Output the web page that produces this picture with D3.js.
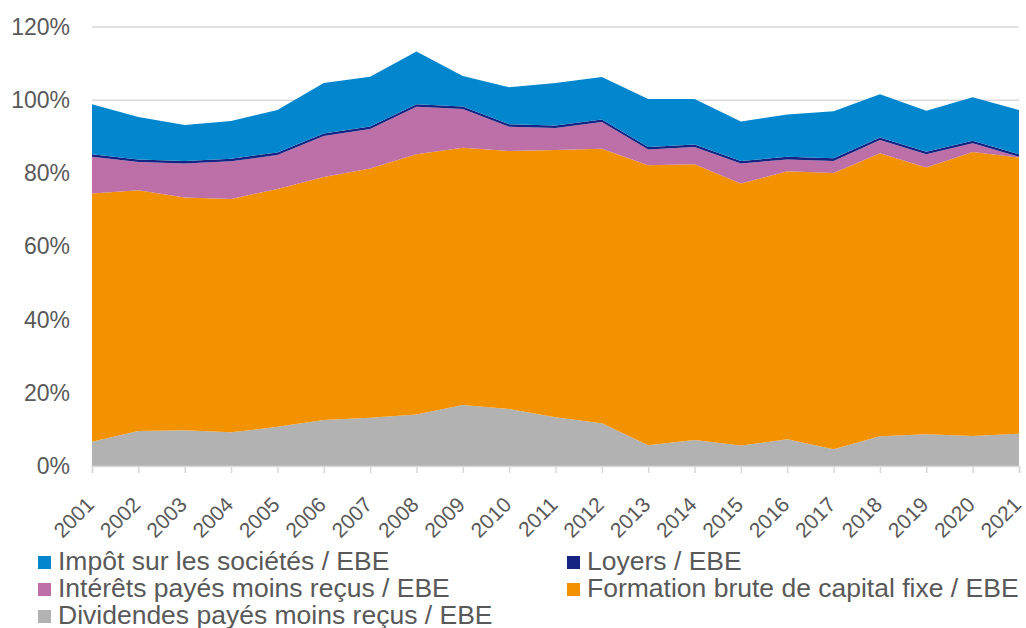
<!DOCTYPE html>
<html>
<head>
<meta charset="utf-8">
<script src="https://cdn.jsdelivr.net/npm/d3@7"></script>
<style>
  html, body { margin: 0; padding: 0; background: #fff; }
  svg { display: block; font-family: "Liberation Sans", Arial, sans-serif; }
</style>
</head>
<body>
<svg id="chart" width="1026" height="628"></svg>
<script>
// Years on the horizontal axis
const years = [2001,2002,2003,2004,2005,2006,2007,2008,2009,2010,2011,2012,2013,2014,2015,2016,2017,2018,2019,2020,2021];

// Ratios to EBE, in percent (stacked from bottom to top)
const dividendes = [6.6,9.6,9.8,9.2,10.7,12.6,13.2,14.1,16.7,15.6,13.3,11.7,5.7,7.1,5.6,7.3,4.6,8.1,8.7,8.2,8.8];
const fbcf       = [67.9,65.8,63.6,63.8,65.0,66.4,68.1,71.1,70.3,70.5,73.1,75.0,76.5,75.4,71.6,73.3,75.5,77.4,72.9,77.6,75.5];
const interets   = [10.0,7.7,9.3,10.3,9.3,11.2,10.8,13.0,10.6,6.6,6.0,7.3,4.3,4.7,5.5,3.2,3.3,3.6,3.6,2.4,0.2];
const loyers     = [0.7,0.7,0.7,0.7,0.7,0.7,0.7,0.7,0.7,0.7,0.7,0.7,0.7,0.7,0.7,0.7,0.7,0.7,0.7,0.7,0.7];
const impot      = [13.7,11.6,9.8,10.3,11.6,13.8,13.6,14.4,8.3,10.1,11.6,11.6,13.1,12.4,10.8,11.6,12.9,11.8,11.2,11.9,12.1];

const yTicks = [0,20,40,60,80,100,120];

const series = [
  { key: "div", label: "Dividendes payés moins reçus / EBE", values: dividendes, color: "#b2b2b2" },
  { key: "fbcf", label: "Formation brute de capital fixe / EBE", values: fbcf, color: "#f39200" },
  { key: "int", label: "Intérêts payés moins reçus / EBE", values: interets, color: "#bd70a8" },
  { key: "loy", label: "Loyers / EBE", values: loyers, color: "#152482" },
  { key: "is", label: "Impôt sur les sociétés / EBE", values: impot, color: "#0287cf" }
];

const rows = years.map((yr, i) => {
  const r = { year: yr };
  series.forEach(s => r[s.key] = s.values[i]);
  return r;
});

const svg = d3.select("#chart");
const plotLeft = 92, plotRight = 1019, plotTop = 27, plotBottom = 466;

const x = d3.scaleLinear().domain([years[0], years[years.length - 1]]).range([plotLeft, plotRight]);
const y = d3.scaleLinear().domain([0, 120]).range([plotBottom, plotTop]);

const textColor = "#595959";
const gridColor = "#d9d9d9";
const fontFamily = "'Liberation Sans', Arial, sans-serif";

// Horizontal gridlines
svg.append("g")
  .selectAll("line")
  .data(yTicks.filter(t => t > 0))
  .join("line")
  .attr("x1", plotLeft).attr("x2", plotRight)
  .attr("y1", d => y(d)).attr("y2", d => y(d))
  .attr("stroke", gridColor).attr("stroke-width", 1.5);

// Stacked areas
const stack = d3.stack().keys(series.map(s => s.key));
const layers = stack(rows);
const area = d3.area()
  .x(d => x(d.data.year))
  .y0(d => y(d[0]))
  .y1(d => y(d[1]));

svg.append("g")
  .selectAll("path")
  .data(layers)
  .join("path")
  .attr("d", area)
  .attr("fill", (d, i) => series[i].color);

// Y axis labels
const yAxis = d3.axisLeft(y).tickValues(yTicks).tickFormat(d => d + "%").tickSize(0).tickPadding(22);
const gy = svg.append("g").attr("transform", `translate(${plotLeft},0)`).call(yAxis);
gy.select(".domain").remove();
gy.selectAll("text")
  .attr("fill", textColor)
  .style("font-size", "23px")
  .style("font-family", fontFamily);

// X axis with rotated year labels
const xAxis = d3.axisBottom(x).tickValues(years).tickFormat(d3.format("d")).tickSize(7).tickPadding(0);
const gx = svg.append("g").attr("transform", `translate(0,${plotBottom})`).call(xAxis);
gx.select(".domain").attr("stroke", gridColor).attr("stroke-width", 1.5);
gx.selectAll(".tick line").attr("stroke", gridColor).attr("stroke-width", 1.5);
gx.selectAll("text")
  .attr("fill", textColor)
  .style("font-size", "21px")
  .style("font-family", fontFamily)
  .attr("text-anchor", "end")
  .attr("x", 0).attr("y", 0).attr("dy", 0)
  .attr("transform", "translate(3,40) rotate(-45)");

// Legend in two columns
const legendItems = [
  { s: series[4], col: 0, row: 0 },
  { s: series[3], col: 1, row: 0 },
  { s: series[2], col: 0, row: 1 },
  { s: series[1], col: 1, row: 1 },
  { s: series[0], col: 0, row: 2 }
];
const colX = [38, 567];
const rowY = [570, 597, 624];

const lg = svg.append("g")
  .selectAll("g")
  .data(legendItems)
  .join("g")
  .attr("transform", d => `translate(${colX[d.col]},${rowY[d.row]})`);
lg.append("rect")
  .attr("x", 0).attr("y", -14)
  .attr("width", 13).attr("height", 13)
  .attr("fill", d => d.s.color);
lg.append("text")
  .attr("x", 20).attr("y", 0)
  .attr("fill", textColor)
  .style("font-size", "26.5px")
  .style("font-family", fontFamily)
  .text(d => d.s.label);
</script>
</body>
</html>
